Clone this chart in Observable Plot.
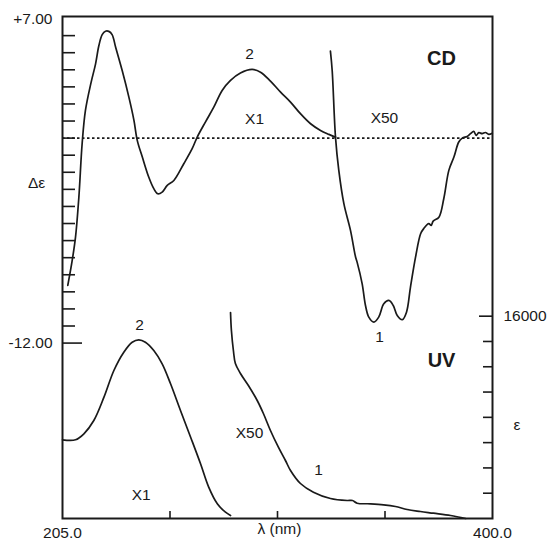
<!DOCTYPE html>
<html>
<head>
<meta charset="utf-8">
<script src="https://cdn.jsdelivr.net/npm/d3@7"></script>
<script src="https://cdn.jsdelivr.net/npm/@observablehq/plot@0.6"></script>
<style>
  html, body { margin: 0; padding: 0; background: #fff; }
  #chart { position: relative; width: 548px; height: 541px; }
  #chart svg { position: absolute; left: 0; top: 0; }
</style>
</head>
<body>
<div id="chart"></div>
<script>
// ---- CD, compound 2 (x1) ----
const cd2Lambda = [207.4, 209.4, 210.9, 212.4, 213.9, 215.4, 218.0, 220.0, 221.5, 223.0, 224.5, 226.0, 227.5, 229.1, 232.1, 235.1, 237.4, 238.9, 241.2, 244.1, 246.4, 248.2, 250.2, 252.5, 255.5, 260.0, 263.8, 266.1, 269.8, 273.6, 277.4, 281.2, 285.7, 291.0, 294.8, 299.3, 303.9, 308.4, 312.9, 317.5, 322.0, 325.8, 328.8];
const cd2Delta  = [-8.62, -7.16, -5.80, -3.50, -0.33, 1.62, 3.28, 4.35, 5.42, 6.06, 6.26, 6.25, 6.06, 5.32, 3.94, 2.40, 1.04, -0.13, -1.11, -2.28, -2.96, -3.26, -3.16, -2.77, -2.48, -1.50, -0.62, 0.06, 0.94, 1.81, 2.79, 3.38, 3.81, 4.02, 3.86, 3.34, 2.69, 2.11, 1.43, 0.84, 0.45, 0.22, 0.06];

// ---- CD, compound 1 (x50) ----
const cd1Lambda = [326.5, 327.3, 328.8, 330.3, 332.6, 335.6, 337.9, 338.6, 340.9, 342.4, 343.9, 346.2, 348.4, 350.7, 353.0, 355.0, 356.8, 359.1, 361.0, 362.8, 365.1, 367.4, 368.8, 371.1, 372.2, 373.1, 375.7, 377.9, 380.2, 382.5, 384.7, 386.3, 388.5, 390.0, 391.5, 392.6, 393.8, 395.3, 396.8, 398.3, 399.9];
const cd1Delta  = [5.09, 3.96, 0.06, -1.89, -3.84, -5.40, -6.96, -7.26, -8.53, -9.80, -10.48, -10.77, -10.48, -9.70, -9.50, -9.80, -10.38, -10.63, -10.19, -8.72, -6.97, -5.60, -5.30, -5.01, -5.11, -4.86, -4.63, -3.55, -1.89, -1.11, -0.23, 0.00, 0.10, 0.26, 0.39, 0.16, 0.32, 0.26, 0.33, 0.22, 0.29];

// ---- UV, compound 2 (x1) ----
const uv2Lambda = [205.0, 210.9, 214.7, 219.2, 223.8, 228.3, 232.8, 236.6, 239.6, 242.6, 246.4, 250.2, 254.0, 258.5, 263.1, 267.6, 271.3, 275.2, 278.9, 281.2];
const uv2Eps    = [6224, 6224, 6699, 7751, 9594, 11705, 13153, 13944, 14134, 13944, 13287, 12235, 10653, 8542, 6430, 4326, 2476, 1163, 498, 237];

// ---- UV, compound 1 (x50) ----
const uv1Lambda = [281.2, 281.6, 282.5, 283.4, 285.7, 289.3, 293.3, 296.1, 299.3, 302.9, 306.1, 308.4, 312.9, 318.8, 326.5, 334.1, 336.5, 338.6, 344.7, 350.6, 356.0, 361.3, 367.3, 373.2, 381.0, 387.8];
const uv1Eps    = [16293, 14869, 13287, 12259, 11468, 10519, 9333, 8305, 6960, 5639, 4587, 3796, 2768, 2080, 1582, 1424, 1424, 1210, 1163, 1084, 949, 712, 554, 419, 237, 0];

// ---- axes ----
const xDomain = [205, 400];
const xTickValues = [253.75, 302.5, 351.25];
const xTickLabels = [205, 400];
const cdDomain = [-22.27, 7.12];
const cdMinorTicks = [6, 5, 4, 3, 2, 1, 0, -1, -2, -3, -4, -5, -6, -7, -8, -9, -10, -11];
const cdMajorTicks = [7, -12];
const uvDomain = [0, 39700];
const uvMinorTicks = [2000, 4000, 6000, 8000, 10000, 12000, 14000];
const uvMajorTicks = [16000];

// ---- annotations ----
const cdNotes = [
  {x: 289.8, y: 4.90, text: "2"},
  {x: 292.1, y: 1.09, text: "X1"},
  {x: 351.0, y: 1.15, text: "X50"},
  {x: 348.8, y: -11.65, text: "1"}
];
const cdTitle = [{x: 376.9, y: 4.67, text: "CD"}];
const uvNotes = [
  {x: 239.9, y: 15264, text: "2"},
  {x: 289.8, y: 6746, text: "X50"},
  {x: 321.1, y: 3796, text: "1"},
  {x: 240.7, y: 1819, text: "X1"}
];
const uvTitle = [{x: 376.9, y: 12496, text: "UV"}];

const toRows = (xs, ys) => xs.map((x, i) => ({x, y: ys[i]}));
const cd2 = toRows(cd2Lambda, cd2Delta);
const cd1 = toRows(cd1Lambda, cd1Delta);
const uv2 = toRows(uv2Lambda, uv2Eps);
const uv1 = toRows(uv1Lambda, uv1Eps);

const ink = "#1a1a1a";
const common = {
  width: 548, height: 541,
  marginLeft: 62, marginRight: 56, marginTop: 16, marginBottom: 23,
  style: {fontFamily: "'Liberation Sans', Arial, Helvetica, sans-serif", fontSize: "15.5px", color: ink, background: "transparent", overflow: "visible"}
};
const lineOpts = {x: "x", y: "y", stroke: ink, strokeWidth: 1.7, curve: "catmull-rom"};
const blank = () => "";

const cdPlot = Plot.plot({
  ...common,
  x: {domain: xDomain, label: null},
  y: {domain: cdDomain, label: null},
  marks: [
    Plot.ruleY([0], {stroke: ink, strokeWidth: 1.6, strokeDasharray: "2.5,2.5"}),
    Plot.line(cd2, lineOpts),
    Plot.line(cd1, lineOpts),
    Plot.frame({stroke: ink, strokeWidth: 2}),
    Plot.axisY(cdMinorTicks, {anchor: "left", label: null, tickSize: 13, insetLeft: 13, tickFormat: blank, stroke: ink, strokeWidth: 1.6}),
    Plot.axisY([-12], {anchor: "left", label: null, tickSize: 20, insetLeft: 20, tickFormat: blank, stroke: ink, strokeWidth: 1.6}),
    Plot.axisY(cdMajorTicks, {anchor: "left", label: null, tickSize: 0, tickPadding: 10, tickFormat: d => (d > 0 ? "+" : "") + d.toFixed(2), fill: ink, fontSize: 15.5}),
    Plot.axisX(xTickValues, {anchor: "bottom", label: null, tickSize: 7, insetBottom: 7, tickFormat: blank, stroke: ink, strokeWidth: 1.6}),
    Plot.axisX(xTickLabels, {anchor: "bottom", label: null, tickSize: 0, tickPadding: 8, tickFormat: d => d.toFixed(1), fill: ink, fontSize: 15.5}),
    Plot.text(["λ (nm)"], {x: 303.4, frameAnchor: "bottom", dy: 15, fill: ink, fontSize: 15.5}),
    Plot.text(["Δε"], {y: -2.63, frameAnchor: "left", dx: -34.5, fill: ink, fontSize: 15.5}),
    Plot.text(cdNotes, {x: "x", y: "y", text: "text", fill: ink, fontSize: 15.5}),
    Plot.text(cdTitle, {x: "x", y: "y", text: "text", fill: ink, fontSize: 20, fontWeight: "bold"})
  ]
});
cdPlot.style.background = "#fff";

const uvPlot = Plot.plot({
  ...common,
  x: {domain: xDomain, axis: null, label: null},
  y: {domain: uvDomain, label: null},
  marks: [
    Plot.line(uv2, lineOpts),
    Plot.line(uv1, lineOpts),
    Plot.axisY(uvMinorTicks, {anchor: "right", label: null, tickSize: 10, insetRight: 10, tickFormat: blank, stroke: ink, strokeWidth: 1.6}),
    Plot.axisY(uvMajorTicks, {anchor: "right", label: null, tickSize: 14, insetRight: 14, tickFormat: blank, stroke: ink, strokeWidth: 1.6}),
    Plot.axisY(uvMajorTicks, {anchor: "right", label: null, tickSize: 0, tickPadding: 11, tickFormat: d => String(d), fill: ink, fontSize: 15.5}),
    Plot.text(["ε"], {y: 7355, frameAnchor: "right", dx: 28, fill: ink, fontSize: 15.5}),
    Plot.text(uvNotes, {x: "x", y: "y", text: "text", fill: ink, fontSize: 15.5}),
    Plot.text(uvTitle, {x: "x", y: "y", text: "text", fill: ink, fontSize: 20, fontWeight: "bold"})
  ]
});

const chart = document.getElementById("chart");
chart.appendChild(cdPlot);
chart.appendChild(uvPlot);
</script>
</body>
</html>
